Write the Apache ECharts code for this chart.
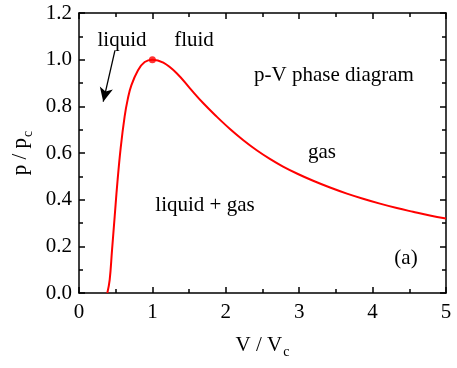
<!DOCTYPE html>
<html>
<head>
<meta charset="utf-8">
<script src="https://cdn.jsdelivr.net/npm/echarts@6/dist/echarts.min.js"></script>
<style>
html, body { margin: 0; padding: 0; background: #fff; }
#container { width: 457px; height: 368px; }
</style>
</head>
<body>
<div id="container"></div>
<script>
// values
var volume   = [0.386, 0.418, 0.45, 0.486, 0.522, 0.568, 0.622, 0.665, 0.713, 0.804, 0.895, 1.0,
                1.149, 1.331, 1.512, 1.694, 1.876, 2.057, 2.239, 2.421, 2.60, 2.78, 2.99,
                3.19, 3.42, 3.65, 3.87, 4.10, 4.33, 4.55, 4.78, 5.0];
var pressure = [0, 0.056, 0.184, 0.327, 0.47, 0.622, 0.757, 0.832, 0.89, 0.955, 0.99, 1.0,
                0.987, 0.942, 0.877, 0.813, 0.756, 0.703, 0.655, 0.612, 0.575, 0.542, 0.509,
                0.481, 0.452, 0.426, 0.404, 0.383, 0.364, 0.348, 0.332, 0.319];
var critical = [1.0, 1.0];
var arrowFrom = [0.49, 1.04];
var arrowTo = [0.33, 0.82];
var xTicks = ['0', '1', '2', '3', '4', '5'];
var yTicks = ['0.0', '0.2', '0.4', '0.6', '0.8', '1.0', '1.2'];

var serif = 'Liberation Serif';

var myChart = echarts.init(document.getElementById('container'));

var curve = [];
for (var i = 0; i < volume.length; i++) {
    curve.push([volume[i], pressure[i]]);
}

function axisBase(pos, isX) {
    return {
        type: 'value',
        position: pos,
        min: 0,
        max: isX ? 5 : 1.2,
        interval: isX ? 1 : 0.2,
        axisLine: { show: true, onZero: false, lineStyle: { color: '#000', width: 1.5 } },
        axisTick: { show: true, inside: true, length: 6, lineStyle: { color: '#000', width: 1.5 } },
        minorTick: { show: true, splitNumber: 2, length: 4, lineStyle: { color: '#000', width: 1.5 } },
        splitLine: { show: false },
        axisLabel: { show: false }
    };
}

var subStyle = { sub: { fontFamily: serif, fontSize: 14, color: '#000', padding: [14, 0, 0, 1] } };

var xBottom = axisBase('bottom', true);
xBottom.axisLabel = {
    show: true, margin: 9, color: '#000', fontFamily: serif, fontSize: 21,
    formatter: function (v) { return xTicks[Math.round(v)]; }
};
xBottom.name = 'V / V{sub|c}';
xBottom.nameLocation = 'middle';
xBottom.nameGap = 38;
xBottom.nameTextStyle = { color: '#000', fontFamily: serif, fontSize: 21, rich: subStyle };
var xTop = axisBase('top', true);

var yLeft = axisBase('left', false);
yLeft.axisLabel = {
    show: true, margin: 7, color: '#000', fontFamily: serif, fontSize: 21,
    formatter: function (v) { return yTicks[Math.round(v / 0.2)]; }
};
yLeft.name = 'p / p{sub|c}';
yLeft.nameLocation = 'middle';
yLeft.nameGap = 44;
yLeft.nameTextStyle = { color: '#000', fontFamily: serif, fontSize: 21, rich: subStyle };
var yRight = axisBase('right', false);

function label(text, x, y) {
    return {
        type: 'text', x: x, y: y,
        style: { text: text, fill: '#000', font: '21px "Liberation Serif"', textAlign: 'center', textVerticalAlign: 'middle' }
    };
}

var option = {
    animation: false,
    backgroundColor: '#fff',
    grid: { left: 79, right: 11, top: 13, bottom: 75, containLabel: false },
    xAxis: [xBottom, xTop],
    yAxis: [yLeft, yRight],
    series: [
        {
            name: 'coexistence',
            type: 'line',
            xAxisIndex: 0,
            yAxisIndex: 0,
            data: curve,
            smooth: 0.4,
            showSymbol: false,
            lineStyle: { color: '#ff0000', width: 2 },
            markLine: {
                silent: true,
                symbol: ['none', 'arrow'],
                symbolSize: [10, 14],
                label: { show: false },
                lineStyle: { color: '#000', width: 1.3, type: 'solid' },
                data: [[{ coord: arrowFrom }, { coord: arrowTo }]]
            }
        },
        {
            name: 'critical',
            type: 'scatter',
            data: [critical],
            symbolSize: 7,
            itemStyle: { color: '#ff0000' }
        }
    ],
    graphic: [
        label('liquid', 122, 40),
        label('fluid', 194, 40),
        label('p-V phase diagram', 334, 75),
        label('gas', 322, 152),
        label('liquid + gas', 205, 205),
        label('(a)', 406, 258)
    ]
};
myChart.setOption(option);
</script>
</body>
</html>
